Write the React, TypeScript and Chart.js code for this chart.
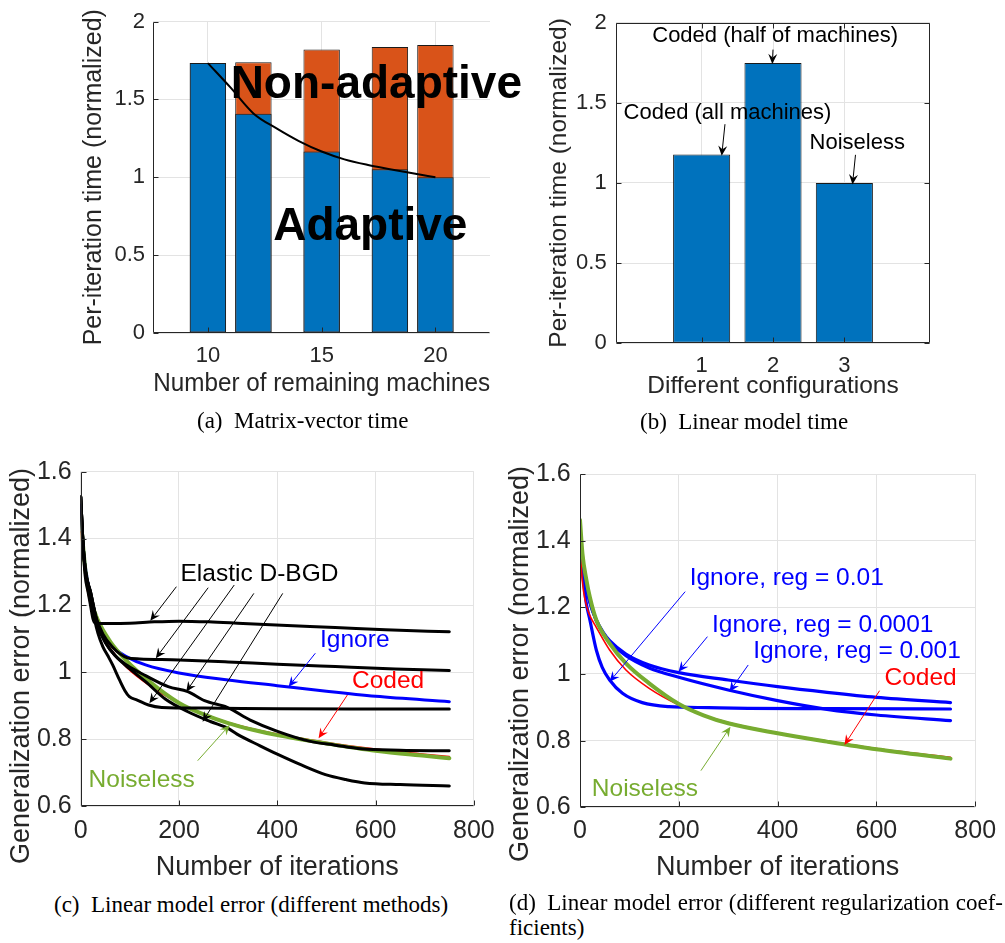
import React, { useEffect, useRef } from "react";
import { Chart, registerables } from "chart.js";

Chart.register(...registerables);

const SANS = "'Liberation Sans', Arial, Helvetica, sans-serif";
const SERIF = "'Liberation Serif', 'Times New Roman', Times, serif";
Chart.defaults.font.family = SANS;

const AXIS = "#262626";
const GRID = "#e3e3e3";
const BAR_BLUE = "#0072bd";
const BAR_ORANGE = "#d95319";
const EDGE = "#1a1a1a";
const BLUE = "#0000ff";
const RED = "#ff0000";
const GREEN = "#77ac30";
const BLACK = "#000000";

type Pt = [number, number];

// ---------- (a) Matrix-vector time ----------
const aMachines = [10, 12, 15, 18, 20];
const aAdaptive = [1.733, 1.407, 1.165, 1.052, 1.0];
const aNonAdaptive = [1.733, 1.739, 1.821, 1.836, 1.849];
const aCurveX = [10, 11, 12, 13, 14, 15, 16, 17, 18, 19, 20];
const aCurveY = [1.733, 1.575, 1.41, 1.315, 1.232, 1.165, 1.115, 1.08, 1.052, 1.025, 1.0];
const aXTicks = [10, 15, 20];
const aYTicks = [0, 0.5, 1, 1.5, 2];

// ---------- (b) Linear model time ----------
const bConfigs = [1, 2, 3];
const bTimes = [1.177, 1.747, 1.0];
const bXTicks = [1, 2, 3];
const bYTicks = [0, 0.5, 1, 1.5, 2];

// ---------- (c) Linear model error (different methods) ----------
const cElasticA: Pt[] = [[0, 1.525], [4, 1.4], [9, 1.29], [15, 1.24], [20, 1.2], [25, 1.16], [30, 1.147], [60, 1.146], [100, 1.147], [150, 1.151], [200, 1.153], [260, 1.151], [330, 1.146], [420, 1.14], [518, 1.134], [620, 1.127], [750, 1.121]];
const cElasticB: Pt[] = [[0, 1.525], [5, 1.38], [10, 1.3], [20, 1.24], [30, 1.17], [45, 1.115], [65, 1.075], [80, 1.055], [95, 1.043], [120, 1.04], [200, 1.037], [300, 1.031], [400, 1.024], [518, 1.017], [640, 1.01], [750, 1.005]];
const cElasticC: Pt[] = [[0, 1.525], [5, 1.38], [10, 1.3], [20, 1.23], [28, 1.16], [35, 1.117], [45, 1.077], [55, 1.05], [65, 1.022], [79, 0.977], [90, 0.945], [99, 0.927], [115, 0.917], [138, 0.902], [165, 0.895], [250, 0.893], [400, 0.891], [550, 0.89], [750, 0.89]];
const cElasticD: Pt[] = [[0, 1.525], [5, 1.38], [10, 1.3], [20, 1.24], [35, 1.14], [50, 1.09], [70, 1.05], [95, 1.02], [132, 0.99], [178, 0.957], [218, 0.942], [252, 0.915], [298, 0.895], [345, 0.857], [399, 0.824], [465, 0.794], [518, 0.782], [571, 0.771], [650, 0.767], [750, 0.765]];
const cElasticE: Pt[] = [[0, 1.525], [5, 1.38], [10, 1.3], [20, 1.24], [35, 1.14], [50, 1.09], [70, 1.05], [100, 1.01], [132, 0.972], [172, 0.92], [218, 0.882], [265, 0.852], [300, 0.832], [318, 0.815], [365, 0.78], [400, 0.755], [450, 0.722], [498, 0.694], [540, 0.679], [578, 0.669], [650, 0.664], [750, 0.66]];
const cIgnore: Pt[] = [[0, 1.5], [5, 1.38], [10, 1.31], [20, 1.23], [33, 1.16], [50, 1.107], [70, 1.07], [93, 1.047], [132, 1.022], [200, 0.998], [300, 0.977], [400, 0.96], [500, 0.943], [600, 0.928], [750, 0.912]];
const cCoded: Pt[] = [[0, 1.42], [10, 1.28], [20, 1.2], [33, 1.14], [60, 1.072], [93, 1.015], [140, 0.96], [200, 0.907], [250, 0.875], [300, 0.85], [400, 0.815], [500, 0.79], [600, 0.77], [700, 0.755], [750, 0.748]];
const cNoiseless: Pt[] = [[0, 1.46], [10, 1.3], [20, 1.22], [33, 1.162], [60, 1.092], [93, 1.035], [140, 0.972], [200, 0.908], [250, 0.874], [300, 0.848], [350, 0.828], [400, 0.812], [500, 0.787], [600, 0.765], [700, 0.75], [750, 0.743]];

// ---------- (d) Linear model error (different regularization coefficients) ----------
const dReg001: Pt[] = [[0, 1.4], [3, 1.33], [7, 1.28], [13, 1.21], [20, 1.162], [33, 1.072], [45, 1.02], [60, 0.982], [86, 0.942], [126, 0.914], [180, 0.902], [260, 0.899], [340, 0.897], [500, 0.896], [750, 0.895]];
const dReg00001: Pt[] = [[0, 1.4], [5, 1.33], [13, 1.262], [20, 1.215], [33, 1.162], [47, 1.125], [60, 1.1], [93, 1.06], [140, 1.027], [200, 1.004], [300, 0.982], [400, 0.962], [500, 0.945], [600, 0.93], [750, 0.914]];
const dReg0001: Pt[] = [[0, 1.4], [5, 1.33], [13, 1.262], [20, 1.215], [33, 1.16], [47, 1.122], [60, 1.097], [93, 1.055], [140, 1.018], [200, 0.99], [300, 0.952], [400, 0.92], [500, 0.894], [600, 0.877], [750, 0.86]];
const dCoded: Pt[] = [[0, 1.4], [3, 1.31], [7, 1.25], [13, 1.205], [20, 1.175], [33, 1.14], [60, 1.072], [93, 1.012], [140, 0.957], [200, 0.907], [250, 0.877], [300, 0.854], [400, 0.823], [500, 0.799], [600, 0.776], [750, 0.75]];
const dNoiseless: Pt[] = [[0, 1.462], [5, 1.36], [13, 1.282], [20, 1.23], [33, 1.162], [60, 1.092], [93, 1.032], [140, 0.972], [200, 0.91], [250, 0.876], [300, 0.852], [400, 0.822], [500, 0.797], [600, 0.774], [750, 0.746]];

const cdXTicks = [0, 200, 400, 600, 800];
const cdYTicks = [0.6, 0.8, 1, 1.2, 1.4, 1.6];

// ---------- helpers ----------
type Note = { text: string; at: Pt; color: string; size: number; bold?: boolean; align?: CanvasTextAlign };
type Arrow = { from: Pt; to: Pt; color: string };
type SideTitle = { text: string; x: number; y: number; size: number };

const pairs = (xs: number[], ys: number[]) => xs.map((x, i) => ({ x, y: ys[i] }));
const pts = (p: Pt[]) => p.map(([x, y]) => ({ x, y }));

function drawArrow(ctx: CanvasRenderingContext2D, x1: number, y1: number, x2: number, y2: number, color: string) {
  const hl = 10, hw = 9;
  const ang = Math.atan2(y2 - y1, x2 - x1);
  const c = Math.cos(ang), s = Math.sin(ang);
  const bx = x2 - hl * c, by = y2 - hl * s;
  const nx = x2 - hl * 0.65 * c, ny = y2 - hl * 0.65 * s;
  const px = -s, py = c;
  ctx.strokeStyle = color;
  ctx.lineWidth = 1;
  ctx.beginPath();
  ctx.moveTo(x1, y1);
  ctx.lineTo(nx, ny);
  ctx.stroke();
  ctx.fillStyle = color;
  ctx.beginPath();
  ctx.moveTo(x2, y2);
  ctx.lineTo(bx + (px * hw) / 2, by + (py * hw) / 2);
  ctx.lineTo(nx, ny);
  ctx.lineTo(bx - (px * hw) / 2, by - (py * hw) / 2);
  ctx.closePath();
  ctx.fill();
}

function axesPlugin(box: boolean, tickLen: number) {
  return {
    id: "matlabAxes",
    afterDatasetsDraw(chart: any) {
      const { ctx, chartArea: a, scales } = chart;
      const xs = scales.x, ys = scales.y;
      const L = Math.round(a.left) + 0.5, R = Math.round(a.right) - 0.5;
      const T = Math.round(a.top) + 0.5, B = Math.round(a.bottom) - 0.5;
      ctx.save();
      ctx.strokeStyle = AXIS;
      ctx.lineWidth = 1;
      ctx.beginPath();
      ctx.moveTo(L, T);
      ctx.lineTo(L, B);
      ctx.lineTo(R, B);
      if (box) {
        ctx.lineTo(R, T);
        ctx.lineTo(L, T);
      }
      xs.ticks.forEach((t: any) => {
        const p = Math.round(xs.getPixelForValue(t.value)) + 0.5;
        ctx.moveTo(p, B);
        ctx.lineTo(p, B - tickLen);
        if (box) {
          ctx.moveTo(p, T);
          ctx.lineTo(p, T + tickLen);
        }
      });
      ys.ticks.forEach((t: any) => {
        const p = Math.round(ys.getPixelForValue(t.value)) + 0.5;
        ctx.moveTo(L, p);
        ctx.lineTo(L + tickLen, p);
        if (box) {
          ctx.moveTo(R, p);
          ctx.lineTo(R - tickLen, p);
        }
      });
      ctx.stroke();
      ctx.restore();
    },
  };
}

// annotations (data coordinates) and an optional rotated side title (canvas pixels)
function notesPlugin(notes: Note[], arrows: Arrow[], side?: SideTitle) {
  return {
    id: "notes",
    afterDraw(chart: any) {
      const { ctx, scales } = chart;
      const xs = scales.x, ys = scales.y;
      ctx.save();
      if (side) {
        ctx.save();
        ctx.translate(side.x, side.y);
        ctx.rotate(-Math.PI / 2);
        ctx.font = `${side.size}px ${SANS}`;
        ctx.fillStyle = AXIS;
        ctx.textAlign = "center";
        ctx.textBaseline = "middle";
        ctx.fillText(side.text, 0, 0);
        ctx.restore();
      }
      arrows.forEach((ar) => {
        drawArrow(
          ctx,
          xs.getPixelForValue(ar.from[0]),
          ys.getPixelForValue(ar.from[1]),
          xs.getPixelForValue(ar.to[0]),
          ys.getPixelForValue(ar.to[1]),
          ar.color
        );
      });
      notes.forEach((n) => {
        ctx.font = `${n.bold ? "bold " : ""}${n.size}px ${SANS}`;
        ctx.fillStyle = n.color;
        ctx.textAlign = n.align || "left";
        ctx.textBaseline = "alphabetic";
        ctx.fillText(n.text, xs.getPixelForValue(n.at[0]), ys.getPixelForValue(n.at[1]));
      });
      ctx.restore();
    },
  };
}

type ScaleSpec = {
  min: number; max: number; ticks: number[]; size: number;
  tickSize: number; tickPad: number; title: string; titleSize: number; titlePad: number; showTitle?: boolean;
};

function scale(axis: "x" | "y", s: ScaleSpec) {
  return {
    type: "linear",
    min: s.min,
    max: s.max,
    offset: false,
    grid: { color: GRID, lineWidth: 1, drawTicks: false, offset: false },
    border: { display: false },
    ticks: {
      padding: s.tickPad,
      font: { size: s.tickSize, family: SANS },
      color: AXIS,
      autoSkip: false,
      maxRotation: 0,
      minRotation: 0,
      callback: (v: number) => String(v),
    },
    title: {
      display: s.showTitle !== false,
      text: s.title,
      color: AXIS,
      font: { size: s.titleSize, family: SANS },
      padding: axis === "y" ? { top: s.titlePad, bottom: 0 } : { top: 0, bottom: s.titlePad },
    },
    afterBuildTicks: (sc: any) => {
      sc.ticks = s.ticks.map((v) => ({ value: v }));
    },
    afterFit: (sc: any) => {
      if (axis === "x") sc.height = s.size;
      else sc.width = s.size;
    },
  };
}

function baseOptions(padding: any, scales: any) {
  return {
    animation: false,
    responsive: false,
    maintainAspectRatio: false,
    events: [],
    layout: { padding },
    plugins: { legend: { display: false }, tooltip: { enabled: false } },
    scales,
  };
}

const lineDs = (data: Pt[], color: string, width: number) => ({
  type: "line",
  data: pts(data),
  borderColor: color,
  borderWidth: width,
  pointRadius: 0,
  fill: false,
  cubicInterpolationMode: "monotone",
  borderCapStyle: "round",
  borderJoinStyle: "round",
});

// ---------- chart builders ----------
function buildA() {
  const barCommon = {
    type: "bar",
    borderColor: EDGE,
    borderWidth: 1,
    borderSkipped: false,
    grouped: false,
    barPercentage: 0.8,
    categoryPercentage: 1,
  };
  return {
    type: "bar",
    data: {
      datasets: [
        { type: "line", data: pairs(aCurveX, aCurveY), borderColor: BLACK, borderWidth: 2, pointRadius: 0, fill: false, cubicInterpolationMode: "monotone" },
        { ...barCommon, data: pairs(aMachines, aAdaptive), backgroundColor: BAR_BLUE },
        { ...barCommon, data: pairs(aMachines, aNonAdaptive), backgroundColor: BAR_ORANGE },
      ],
    },
    options: baseOptions({ left: 0, top: 16, right: 45, bottom: 0 }, {
      x: scale("x", { min: 7.6, max: 22.4, ticks: aXTicks, size: 77, tickSize: 22, tickPad: 9.4, title: "Number of remaining machines", titleSize: 25, titlePad: 10.4 }),
      y: scale("y", { min: 0, max: 2, ticks: aYTicks, size: 153.3, tickSize: 22, tickPad: 8.3, title: "Per-iteration time (normalized)", titleSize: 25, titlePad: 79.4 }),
    }),
    plugins: [
      axesPlugin(false, 5),
      notesPlugin(
        [
          { text: "Non-adaptive", at: [11.0, 1.506], color: BLACK, size: 46, bold: true },
          { text: "Adaptive", at: [12.87, 0.597], color: BLACK, size: 46, bold: true },
        ],
        []
      ),
    ],
  };
}

function buildB() {
  return {
    type: "bar",
    data: {
      datasets: [
        {
          data: pairs(bConfigs, bTimes),
          backgroundColor: BAR_BLUE,
          borderColor: EDGE,
          borderWidth: 1,
          borderSkipped: false,
          barPercentage: 0.8,
          categoryPercentage: 1,
        },
      ],
    },
    options: baseOptions({ left: 0, top: 19, right: 75, bottom: 0 }, {
      x: scale("x", { min: -0.2, max: 4.2, ticks: bXTicks, size: 66.7, tickSize: 22, tickPad: 9.1, title: "Different configurations", titleSize: 24.5, titlePad: 8.9 }),
      y: scale("y", { min: 0, max: 2, ticks: bYTicks, size: 81, tickSize: 22, tickPad: 9.3, title: "Per-iteration time (normalized)", titleSize: 24.5, titlePad: 9.8 }),
    }),
    plugins: [
      axesPlugin(true, 5),
      notesPlugin(
        [
          { text: "Coded (half of machines)", at: [2.03, 1.878], color: BLACK, size: 22, align: "center" },
          { text: "Coded (all machines)", at: [1.362, 1.397], color: BLACK, size: 22, align: "center" },
          { text: "Noiseless", at: [3.18, 1.212], color: BLACK, size: 22, align: "center" },
        ],
        [
          { from: [2.0, 1.831], to: [1.99, 1.742], color: BLACK },
          { from: [1.327, 1.366], to: [1.281, 1.169], color: BLACK },
          { from: [3.156, 1.175], to: [3.114, 0.99], color: BLACK },
        ]
      ),
    ],
  };
}

const cdYTitle = "Generalization error (normalized)";

function cdScales(ySize: number, yTickPad: number, xSize: number, xTickPad: number) {
  return {
    x: scale("x", { min: 0, max: 800, ticks: cdXTicks, size: xSize, tickSize: 25, tickPad: xTickPad, title: "Number of iterations", titleSize: 27, titlePad: 6.55 }),
    y: scale("y", { min: 0.6, max: 1.6, ticks: cdYTicks, size: ySize, tickSize: 25, tickPad: yTickPad, title: cdYTitle, titleSize: 27, titlePad: 0, showTitle: false }),
  };
}

function buildC() {
  return {
    type: "line",
    data: {
      datasets: [
        lineDs(cElasticA, BLACK, 3),
        lineDs(cElasticB, BLACK, 3),
        lineDs(cElasticC, BLACK, 3),
        lineDs(cElasticD, BLACK, 3),
        lineDs(cElasticE, BLACK, 3),
        lineDs(cNoiseless, GREEN, 4),
        lineDs(cCoded, RED, 1.6),
        lineDs(cIgnore, BLUE, 3),
      ],
    },
    options: baseOptions({ left: 0, top: 31.7, right: 24, bottom: 0 }, cdScales(80.7, 9, 84, 10.25)),
    plugins: [
      axesPlugin(false, 5),
      notesPlugin(
        [
          { text: "Elastic D-BGD", at: [203, 1.274], color: BLACK, size: 24.5 },
          { text: "Ignore", at: [487, 1.077], color: BLUE, size: 24.5 },
          { text: "Coded", at: [552, 0.952], color: RED, size: 24.5 },
          { text: "Noiseless", at: [16, 0.658], color: GREEN, size: 24.5 },
        ],
        [
          { from: [194.7, 1.256], to: [141.6, 1.154], color: BLACK },
          { from: [259.4, 1.253], to: [152.8, 1.042], color: BLACK },
          { from: [312.4, 1.261], to: [139.7, 0.907], color: BLACK },
          { from: [352.3, 1.236], to: [214.7, 0.942], color: BLACK },
          { from: [411, 1.236], to: [248, 0.852], color: BLACK },
          { from: [477.4, 1.057], to: [423, 0.957], color: BLUE },
          { from: [542.6, 0.932], to: [484, 0.8025], color: RED },
          { from: [238, 0.7355], to: [303.2, 0.8425], color: GREEN },
        ],
        { text: cdYTitle, x: 21.6, y: 226, size: 27 }
      ),
    ],
  };
}

function buildD() {
  return {
    type: "line",
    data: {
      datasets: [
        lineDs(dNoiseless, GREEN, 4),
        lineDs(dCoded, RED, 1.6),
        lineDs(dReg001, BLUE, 3.2),
        lineDs(dReg00001, BLUE, 3.2),
        lineDs(dReg0001, BLUE, 3.2),
      ],
    },
    options: baseOptions({ left: 0, top: 34, right: 24, bottom: 0 }, cdScales(80, 9.3, 82.7, 8.95)),
    plugins: [
      axesPlugin(false, 5),
      notesPlugin(
        [
          { text: "Ignore, reg = 0.01", at: [222, 1.267], color: BLUE, size: 24.5 },
          { text: "Ignore, reg = 0.0001", at: [267.3, 1.127], color: BLUE, size: 24.5 },
          { text: "Ignore, reg = 0.001", at: [350.5, 1.047], color: BLUE, size: 24.5 },
          { text: "Coded", at: [616.5, 0.967], color: RED, size: 24.5 },
          { text: "Noiseless", at: [24, 0.634], color: GREEN, size: 24.5 },
        ],
        [
          { from: [212.9, 1.247], to: [59.9, 0.977], color: BLUE },
          { from: [258, 1.112], to: [199.5, 1.007], color: BLUE },
          { from: [340.5, 1.027], to: [302.6, 0.947], color: BLUE },
          { from: [606.5, 0.95], to: [535.3, 0.787], color: RED },
          { from: [244.8, 0.71], to: [304.6, 0.842], color: GREEN },
        ],
        { text: cdYTitle, x: 20.1, y: 224, size: 27 }
      ),
    ],
  };
}

function ChartCanvas(props: { left: number; top: number; width: number; height: number; build: () => any }) {
  const ref = useRef<HTMLCanvasElement>(null);
  useEffect(() => {
    const chart = new Chart(ref.current as HTMLCanvasElement, props.build());
    return () => chart.destroy();
  }, []);
  return (
    <canvas
      ref={ref}
      width={props.width}
      height={props.height}
      style={{ position: "absolute", left: props.left, top: props.top, width: props.width, height: props.height }}
    />
  );
}

const capStyle: React.CSSProperties = {
  position: "absolute",
  fontFamily: SERIF,
  fontSize: 23,
  lineHeight: "25px",
  color: "#000",
  whiteSpace: "nowrap",
};

export default function App() {
  return (
    <div style={{ position: "absolute", left: 0, top: 0, width: 1005, height: 943, background: "#fff", overflow: "hidden" }}>
      <ChartCanvas left={0} top={0} width={535} height={410} build={buildA} />
      <ChartCanvas left={535} top={0} width={470} height={410} build={buildB} />
      <ChartCanvas left={0} top={440} width={505} height={450} build={buildC} />
      <ChartCanvas left={500} top={440} width={505} height={450} build={buildD} />
      <div style={{ ...capStyle, left: 197, top: 408 }}>(a)&#8194;Matrix-vector time</div>
      <div style={{ ...capStyle, left: 640, top: 409 }}>(b)&#8194;Linear model time</div>
      <div style={{ ...capStyle, left: 54, top: 891.5 }}>(c)&#8194;Linear model error (different methods)</div>
      <div style={{ ...capStyle, left: 509, top: 889.7, width: 494, textAlign: "justify", textAlignLast: "justify" as any }}>
        (d)&#8194;Linear model error (different regularization coef-
      </div>
      <div style={{ ...capStyle, left: 509, top: 914.7 }}>ficients)</div>
    </div>
  );
}
